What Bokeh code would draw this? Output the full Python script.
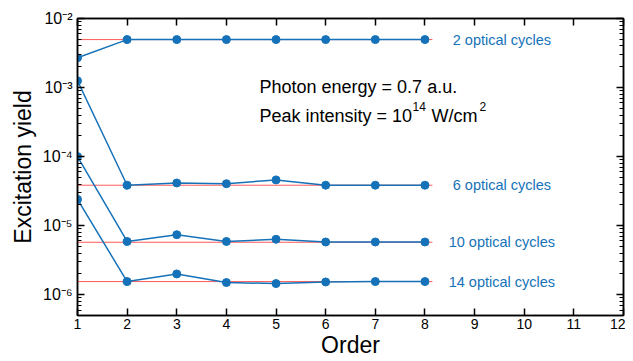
from bokeh.plotting import figure
from bokeh.models import LogAxis, LinearAxis, FixedTicker, Label, ColumnDataSource
from bokeh.embed import file_html
from bokeh.resources import INLINE

# ---- data ----
order = [1, 2, 3, 4, 5, 6, 7, 8]
cycles_2 = [2.7e-3, 4.95e-3, 4.95e-3, 4.95e-3, 4.95e-3, 4.95e-3, 4.95e-3, 4.95e-3]
cycles_6 = [1.25e-3, 3.85e-5, 4.15e-5, 4.05e-5, 4.6e-5, 3.85e-5, 3.85e-5, 3.85e-5]
cycles_10 = [1.0e-4, 5.9e-6, 7.4e-6, 5.9e-6, 6.35e-6, 5.8e-6, 5.8e-6, 5.8e-6]
cycles_14 = [2.4e-5, 1.55e-6, 2.0e-6, 1.5e-6, 1.45e-6, 1.53e-6, 1.55e-6, 1.55e-6]
reference = [4.95e-3, 3.85e-5, 5.75e-6, 1.55e-6]
ref_x = [1, 8.15]
series_labels = ["2 optical cycles", "6 optical cycles", "10 optical cycles", "14 optical cycles"]
x_ticks = [1, 2, 3, 4, 5, 6, 7, 8, 9, 10, 11, 12]
y_ticks = [1e-6, 1e-5, 1e-4, 1e-3, 1e-2]
y_tick_labels = ["10⁻⁶", "10⁻⁵", "10⁻⁴", "10⁻³", "10⁻²"]

FONT = "Liberation Sans"
BLUE = "#1672b8"
RED = "#ff5a5a"

y_minor = []
for e in range(-7, -2):
    for m in range(2, 10):
        v = m * 10.0 ** e
        if 5e-7 <= v <= 1e-2:
            y_minor.append(v)

p = figure(y_axis_type="log", x_range=(1, 12), y_range=(5e-7, 1e-2),
           frame_width=546, frame_height=297,
           output_backend="svg", toolbar_location=None)
p.min_border_left = 77
p.min_border_right = 2
p.min_border_top = 18
p.min_border_bottom = 44
p.outline_line_color = "black"
p.outline_line_width = 1.5
p.grid.visible = False
p.background_fill_color = "white"
p.border_fill_color = "white"

# reference lines
for r in reference:
    p.line(ref_x, [r, r], line_color=RED, line_width=1)

for ys in [cycles_2, cycles_6, cycles_10, cycles_14]:
    src = ColumnDataSource(dict(x=order, y=ys))
    p.line("x", "y", source=src, line_color=BLUE, line_width=1.5)
    p.scatter("x", "y", source=src, size=8, fill_color=BLUE, line_color=BLUE)

# series labels
for lab, yv in zip(series_labels, reference):
    p.add_layout(Label(x=9.55, y=yv, text=lab, text_align="center", text_baseline="middle",
                       text_color=BLUE, text_font=FONT, text_font_size="14.5px"))

def note(x, y, text, size):
    p.add_layout(Label(x=x - 77, y=315 - y, x_units="screen", y_units="screen",
                       text=text, text_font=FONT, text_font_size=size,
                       text_color="black", text_baseline="middle"))

note(259, 86, "Photon energy = 0.7 a.u.", "18px")
note(259, 115, "Peak intensity = 10", "18px")
note(412, 106, "14", "12px")
note(431, 115, "W/cm", "18px")
note(479, 106, "2", "12px")

def style(ax):
    ax.major_tick_in = 7
    ax.major_tick_out = 0
    ax.minor_tick_in = 4
    ax.minor_tick_out = 0
    ax.axis_line_color = "black"
    ax.axis_line_width = 1.5
    ax.major_tick_line_color = "black"
    ax.major_tick_line_width = 1.5
    ax.minor_tick_line_color = "black"
    ax.minor_tick_line_width = 1.2
    ax.major_label_text_font = FONT
    ax.major_label_text_font_size = "14px"
    ax.major_label_text_color = "black"
    ax.axis_label_text_font = FONT
    ax.axis_label_text_font_style = "normal"
    ax.axis_label_text_font_size = "23px"
    ax.axis_label_text_color = "black"

xt = FixedTicker(ticks=x_ticks, minor_ticks=[])
yt = FixedTicker(ticks=y_ticks, minor_ticks=y_minor)
overrides = {t: l for t, l in zip(y_ticks, y_tick_labels)}

xa = p.xaxis[0]
xa.ticker = xt
xa.axis_label = "Order"
xa.major_label_standoff = 3
xa.axis_label_standoff = 0
style(xa)

ya = p.yaxis[0]
ya.ticker = yt
ya.major_label_overrides = overrides
ya.axis_label = "Excitation yield"
ya.major_label_standoff = 5
ya.axis_label_standoff = 4
style(ya)
ya.major_label_text_font_size = "16px"

top = LinearAxis(ticker=FixedTicker(ticks=x_ticks, minor_ticks=[]))
style(top)
top.major_label_overrides = {t: "" for t in x_ticks}
top.major_label_standoff = 0
p.add_layout(top, "above")
right = LogAxis(ticker=FixedTicker(ticks=y_ticks, minor_ticks=y_minor))
style(right)
right.major_label_overrides = {t: "" for t in y_ticks}
right.major_label_standoff = 0
p.add_layout(right, "right")

open("out.html", "w").write(file_html(p, INLINE))
